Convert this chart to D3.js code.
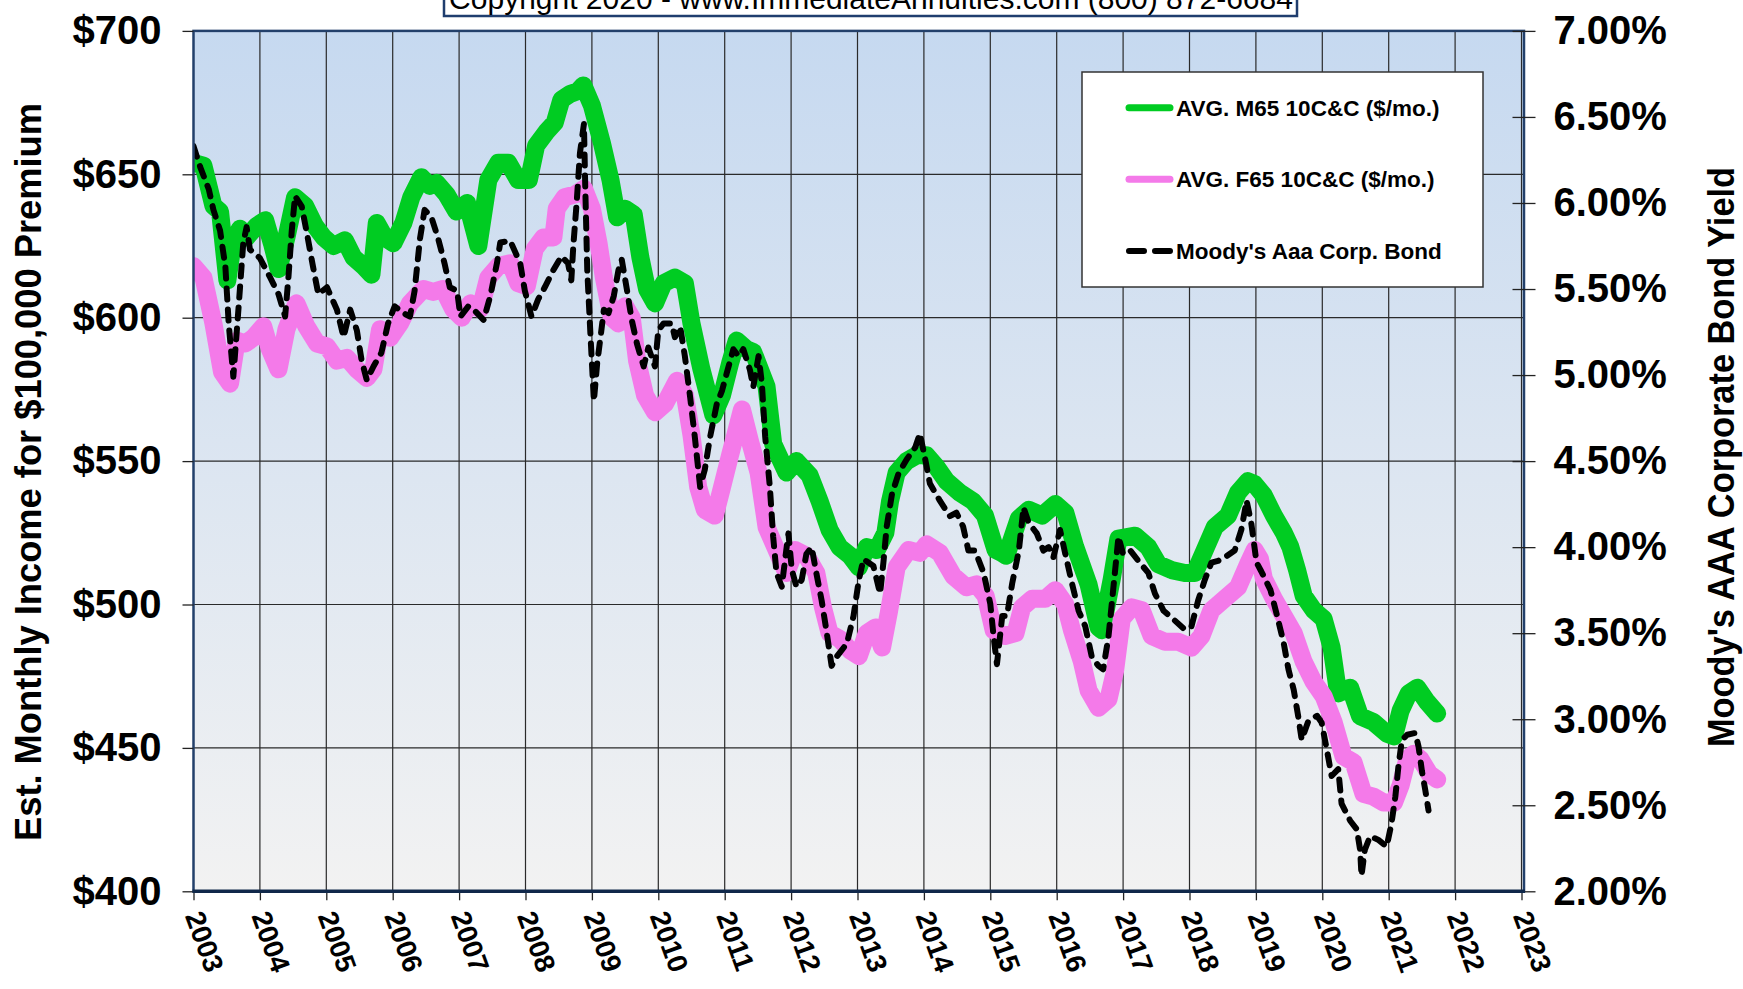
<!DOCTYPE html>
<html>
<head>
<meta charset="utf-8">
<script src="https://cdn.jsdelivr.net/npm/d3@7"></script>
<style>
body { margin: 0; background: #fff; }
text { font-family: Arial, "Liberation Sans", sans-serif; }
</style>
</head>
<body>
<script>
// canvas and plot box
var w = 1743, h = 989;
var plotLeft = 193.5, plotRight = 1521.5, plotEdge = 1524;
var plotTop = 30.9, plotBottom = 891.3;

// axis ticks and labels
var years = d3.range(2003, 2024);
var incomeTicks = [400, 450, 500, 550, 600, 650, 700];
var yieldTicks = [2, 2.5, 3, 3.5, 4, 4.5, 5, 5.5, 6, 6.5, 7];
var seriesNames = ["AVG. M65 10C&C ($/mo.)", "AVG. F65 10C&C ($/mo.)", "Moody's Aaa Corp. Bond"];
var copyright = "Copyright 2020 - www.ImmediateAnnuities.com  (800) 872-6684";

// [year, $ per month]
var m65 = [[2003.00,654],[2003.15,653],[2003.30,639],[2003.40,637],[2003.51,613],[2003.60,627],[2003.70,631],[2003.80,628],[2003.95,632],[2004.08,634],[2004.18,626],[2004.28,617],[2004.40,628],[2004.53,642],[2004.68,639],[2004.83,632],[2004.96,628],[2005.11,625],[2005.28,627],[2005.41,621],[2005.56,618],[2005.68,615],[2005.76,633],[2005.88,628],[2006.01,626],[2006.16,633],[2006.28,642],[2006.43,649],[2006.56,646],[2006.66,647],[2006.81,643],[2006.96,637],[2007.12,640],[2007.29,625],[2007.44,648],[2007.59,654],[2007.74,654],[2007.89,648],[2008.05,648],[2008.16,660],[2008.32,665],[2008.44,668],[2008.54,676],[2008.67,678],[2008.79,679],[2008.87,681],[2009.00,674],[2009.15,661],[2009.28,648],[2009.38,635],[2009.50,638],[2009.63,636],[2009.73,621],[2009.83,610],[2009.95,605],[2010.08,612],[2010.25,614],[2010.40,612],[2010.50,598],[2010.65,582],[2010.83,566],[2010.96,573],[2011.08,584],[2011.18,592],[2011.33,589],[2011.43,588],[2011.63,576],[2011.73,556],[2011.93,546],[2012.08,550],[2012.28,545],[2012.43,536],[2012.58,526],[2012.73,520],[2012.89,517],[2013.02,513],[2013.14,520],[2013.29,519],[2013.42,525],[2013.49,536],[2013.59,546],[2013.74,550],[2013.89,552],[2014.04,552],[2014.19,548],[2014.34,543],[2014.54,539],[2014.74,536],[2014.92,531],[2015.08,519],[2015.17,518],[2015.24,517],[2015.43,530],[2015.58,533],[2015.78,531],[2015.98,535],[2016.13,532],[2016.28,520],[2016.48,507],[2016.63,492],[2016.68,491],[2016.83,509],[2016.93,523],[2017.18,524],[2017.38,520],[2017.53,514],[2017.73,512],[2017.93,511],[2018.08,511],[2018.23,519],[2018.38,527],[2018.58,531],[2018.73,539],[2018.88,543],[2018.98,542],[2019.12,538],[2019.27,531],[2019.42,525],[2019.52,520],[2019.62,512],[2019.72,503],[2019.87,498],[2020.02,495],[2020.14,485],[2020.24,469],[2020.42,471],[2020.57,461],[2020.77,459],[2020.97,455],[2021.08,454],[2021.18,463],[2021.30,469],[2021.43,471],[2021.58,466],[2021.73,462]];

var f65 = [[2003.00,618],[2003.15,614],[2003.30,598],[2003.43,581],[2003.55,577],[2003.65,592],[2003.78,591],[2003.90,593],[2004.05,597],[2004.15,589],[2004.28,582],[2004.40,596],[2004.55,605],[2004.70,597],[2004.86,591],[2005.01,590],[2005.16,585],[2005.31,586],[2005.46,582],[2005.61,579],[2005.71,582],[2005.81,596],[2005.96,593],[2006.11,598],[2006.26,605],[2006.46,610],[2006.61,609],[2006.76,610],[2006.91,603],[2007.04,600],[2007.17,605],[2007.32,603],[2007.44,614],[2007.59,618],[2007.77,619],[2007.89,612],[2008.02,611],[2008.14,624],[2008.27,628],[2008.42,628],[2008.47,638],[2008.59,642],[2008.75,643],[2008.88,645],[2009.00,638],[2009.10,626],[2009.18,614],[2009.30,600],[2009.40,598],[2009.50,604],[2009.60,600],[2009.68,585],[2009.80,573],[2009.95,567],[2010.10,570],[2010.28,578],[2010.40,573],[2010.50,559],[2010.60,541],[2010.70,533],[2010.85,531],[2010.95,540],[2011.08,552],[2011.26,568],[2011.38,557],[2011.51,546],[2011.63,527],[2011.78,519],[2011.93,511],[2012.06,519],[2012.23,517],[2012.38,511],[2012.48,499],[2012.58,490],[2012.73,488],[2012.89,484],[2013.02,482],[2013.14,490],[2013.27,492],[2013.37,485],[2013.47,497],[2013.59,513],[2013.77,519],[2013.94,518],[2014.04,521],[2014.24,518],[2014.44,510],[2014.64,506],[2014.79,507],[2014.93,503],[2015.05,491],[2015.22,489],[2015.38,490],[2015.48,499],[2015.63,502],[2015.83,502],[2015.98,505],[2016.13,500],[2016.23,491],[2016.38,480],[2016.48,470],[2016.63,464],[2016.78,467],[2016.88,477],[2016.98,495],[2017.13,499],[2017.28,498],[2017.43,489],[2017.63,487],[2017.83,487],[2018.03,485],[2018.18,489],[2018.33,498],[2018.53,502],[2018.73,506],[2018.88,514],[2018.98,519],[2019.06,516],[2019.12,509],[2019.27,502],[2019.42,496],[2019.57,490],[2019.72,480],[2019.87,473],[2020.02,468],[2020.17,459],[2020.32,447],[2020.47,445],[2020.62,434],[2020.77,433],[2020.92,431],[2021.08,431],[2021.18,437],[2021.28,446],[2021.38,448],[2021.48,446],[2021.61,441],[2021.73,439]];

// [year, % yield]
var aaa = [[2003.00,6.33],[2003.10,6.21],[2003.23,6.08],[2003.30,5.96],[2003.40,5.84],[2003.48,5.63],[2003.53,5.30],[2003.60,4.99],[2003.68,5.40],[2003.75,5.77],[2003.80,5.86],[2003.85,5.73],[2004.00,5.68],[2004.15,5.57],[2004.28,5.47],[2004.38,5.34],[2004.43,5.57],[2004.48,5.84],[2004.53,6.04],[2004.63,5.98],[2004.70,5.84],[2004.80,5.63],[2004.88,5.47],[2005.01,5.51],[2005.16,5.38],[2005.26,5.22],[2005.36,5.38],[2005.46,5.26],[2005.53,5.09],[2005.61,4.97],[2005.71,5.05],[2005.83,5.13],[2005.93,5.30],[2006.03,5.40],[2006.16,5.36],[2006.26,5.34],[2006.33,5.49],[2006.41,5.79],[2006.48,5.96],[2006.58,5.92],[2006.68,5.80],[2006.78,5.65],[2006.86,5.51],[2006.97,5.49],[2007.02,5.34],[2007.14,5.40],[2007.22,5.38],[2007.37,5.32],[2007.47,5.46],[2007.57,5.65],[2007.62,5.77],[2007.77,5.78],[2007.92,5.65],[2007.99,5.49],[2008.09,5.34],[2008.19,5.44],[2008.29,5.51],[2008.42,5.61],[2008.54,5.69],[2008.64,5.65],[2008.69,5.55],[2008.72,5.75],[2008.77,6.00],[2008.82,6.29],[2008.88,6.46],[2008.90,6.09],[2008.93,5.61],[2008.98,5.22],[2009.03,4.85],[2009.08,5.07],[2009.13,5.22],[2009.18,5.38],[2009.25,5.36],[2009.33,5.46],[2009.40,5.61],[2009.45,5.67],[2009.53,5.49],[2009.60,5.32],[2009.68,5.18],[2009.78,5.05],[2009.85,5.16],[2009.95,5.05],[2010.00,5.26],[2010.08,5.30],[2010.20,5.30],[2010.25,5.22],[2010.33,5.28],[2010.40,5.11],[2010.48,4.87],[2010.55,4.64],[2010.63,4.35],[2010.70,4.45],[2010.78,4.64],[2010.88,4.83],[2010.96,4.91],[2011.03,5.01],[2011.13,5.15],[2011.21,5.11],[2011.28,5.15],[2011.38,5.03],[2011.43,4.93],[2011.51,5.11],[2011.56,4.95],[2011.61,4.64],[2011.68,4.35],[2011.73,4.06],[2011.78,3.85],[2011.86,3.77],[2011.91,3.93],[2011.96,4.08],[2012.01,3.87],[2012.08,3.77],[2012.16,3.81],[2012.23,3.96],[2012.31,4.00],[2012.38,3.85],[2012.46,3.69],[2012.53,3.52],[2012.61,3.31],[2012.68,3.36],[2012.84,3.44],[2012.94,3.60],[2013.02,3.81],[2013.09,3.93],[2013.24,3.89],[2013.34,3.73],[2013.39,3.91],[2013.44,4.12],[2013.52,4.31],[2013.62,4.43],[2013.74,4.51],[2013.87,4.58],[2013.94,4.66],[2014.02,4.51],[2014.09,4.37],[2014.24,4.27],[2014.39,4.18],[2014.49,4.20],[2014.59,4.12],[2014.67,3.98],[2014.77,3.98],[2014.90,3.85],[2015.00,3.67],[2015.05,3.48],[2015.10,3.32],[2015.18,3.60],[2015.25,3.60],[2015.33,3.79],[2015.43,3.98],[2015.50,4.23],[2015.58,4.14],[2015.70,4.08],[2015.80,3.98],[2015.88,4.00],[2015.95,3.94],[2016.05,4.10],[2016.13,3.96],[2016.23,3.79],[2016.33,3.63],[2016.43,3.54],[2016.53,3.36],[2016.63,3.31],[2016.70,3.29],[2016.78,3.48],[2016.85,3.75],[2016.93,4.06],[2017.00,3.96],[2017.11,3.98],[2017.23,3.92],[2017.38,3.85],[2017.48,3.73],[2017.61,3.63],[2017.76,3.58],[2017.93,3.52],[2018.03,3.54],[2018.13,3.69],[2018.23,3.81],[2018.33,3.91],[2018.43,3.92],[2018.53,3.94],[2018.68,3.98],[2018.78,4.10],[2018.86,4.27],[2018.93,4.14],[2019.01,3.91],[2019.08,3.86],[2019.22,3.75],[2019.32,3.60],[2019.42,3.44],[2019.49,3.29],[2019.57,3.17],[2019.64,3.01],[2019.69,2.88],[2019.79,2.99],[2019.92,3.02],[2019.99,2.98],[2020.07,2.82],[2020.14,2.67],[2020.24,2.71],[2020.29,2.51],[2020.42,2.41],[2020.52,2.36],[2020.57,2.24],[2020.59,2.09],[2020.64,2.24],[2020.72,2.32],[2020.84,2.30],[2020.97,2.26],[2021.04,2.39],[2021.10,2.55],[2021.15,2.74],[2021.20,2.88],[2021.28,2.91],[2021.40,2.92],[2021.45,2.84],[2021.50,2.70],[2021.55,2.59],[2021.60,2.47]];

// scales
var x = d3.scaleLinear().domain([2003, 2023]).range([plotLeft, plotRight]);
var yL = d3.scaleLinear().domain([400, 700]).range([plotBottom, plotTop]);
var yR = d3.scaleLinear().domain([2, 7]).range([plotBottom, plotTop]);

var svg = d3.select("body").append("svg")
    .attr("width", w)
    .attr("height", h);

var defs = svg.append("defs");

// plot background gradient
var grad = defs.append("linearGradient")
    .attr("id", "bg").attr("x1", 0).attr("y1", 0).attr("x2", 0).attr("y2", 1);
grad.append("stop").attr("offset", "0%").attr("stop-color", "#c6d9f0");
grad.append("stop").attr("offset", "100%").attr("stop-color", "#f2f2f2");

defs.append("clipPath").attr("id", "plotClip")
   .append("rect")
   .attr("x", plotLeft).attr("y", plotTop)
   .attr("width", plotEdge - plotLeft).attr("height", plotBottom - plotTop);

svg.append("rect")
   .attr("x", plotLeft).attr("y", plotTop)
   .attr("width", plotEdge - plotLeft).attr("height", plotBottom - plotTop)
   .attr("fill", "url(#bg)");

// gridlines
svg.append("g").selectAll("line")
   .data(years.slice(1))
   .enter().append("line")
   .attr("x1", function(d) { return x(d); })
   .attr("x2", function(d) { return x(d); })
   .attr("y1", plotTop).attr("y2", plotBottom)
   .attr("stroke", "#2a2a2a").attr("stroke-width", 1.2);

svg.append("g").selectAll("line")
   .data(incomeTicks.slice(1, -1))
   .enter().append("line")
   .attr("x1", plotLeft).attr("x2", plotEdge)
   .attr("y1", function(d) { return yL(d); })
   .attr("y2", function(d) { return yL(d); })
   .attr("stroke", "#2a2a2a").attr("stroke-width", 1.2);

// series
var lineL = d3.line()
    .x(function(d) { return x(d[0]); })
    .y(function(d) { return yL(d[1]); });
var lineR = d3.line()
    .x(function(d) { return x(d[0]); })
    .y(function(d) { return yR(d[1]); });

var series = svg.append("g").attr("clip-path", "url(#plotClip)");

series.append("path").datum(m65)
   .attr("d", lineL)
   .attr("fill", "none").attr("stroke", "#00cc22").attr("stroke-width", 18)
   .attr("stroke-linejoin", "round").attr("stroke-linecap", "round");

series.append("path").datum(f65)
   .attr("d", lineL)
   .attr("fill", "none").attr("stroke", "#f47ae9").attr("stroke-width", 18)
   .attr("stroke-linejoin", "round").attr("stroke-linecap", "round");

series.append("path").datum(aaa)
   .attr("d", lineR)
   .attr("fill", "none").attr("stroke", "#000").attr("stroke-width", 6)
   .attr("stroke-dasharray", "11 10")
   .attr("stroke-linejoin", "round").attr("stroke-linecap", "round");

// plot border
svg.append("rect")
   .attr("x", plotLeft).attr("y", plotTop)
   .attr("width", plotEdge - plotLeft).attr("height", plotBottom - plotTop)
   .attr("fill", "none").attr("stroke", "#23406b").attr("stroke-width", 2.5);

// left axis
var leftAxis = svg.append("g")
   .attr("transform", "translate(" + plotLeft + ",0)")
   .call(d3.axisLeft(yL).tickValues(incomeTicks).tickSize(11).tickPadding(21)
          .tickFormat(function(d) { return "$" + d; }));
leftAxis.select(".domain").remove();
leftAxis.selectAll("line").attr("stroke", "#222").attr("stroke-width", 1.3);
leftAxis.selectAll("text")
   .attr("font-family", "Arial, 'Liberation Sans', sans-serif")
   .attr("font-size", 40).attr("font-weight", "bold").attr("fill", "#000");

// right axis (crossing ticks)
var rightAxis = svg.append("g")
   .attr("transform", "translate(" + plotRight + ",0)")
   .call(d3.axisRight(yR).tickValues(yieldTicks).tickSize(0).tickPadding(32)
          .tickFormat(function(d) { return d.toFixed(2) + "%"; }));
rightAxis.select(".domain").remove();
rightAxis.selectAll(".tick line")
   .attr("x1", -9).attr("x2", 14)
   .attr("stroke", "#222").attr("stroke-width", 1.3);
rightAxis.selectAll("text")
   .attr("font-family", "Arial, 'Liberation Sans', sans-serif")
   .attr("font-size", 40).attr("font-weight", "bold").attr("fill", "#000");

// bottom axis
var bottomAxis = svg.append("g")
   .attr("transform", "translate(0," + plotBottom + ")")
   .call(d3.axisBottom(x).tickValues(years).tickSize(9).tickSizeOuter(0)
          .tickFormat(d3.format("d")));
bottomAxis.select(".domain").remove();
bottomAxis.selectAll("line").attr("stroke", "#222").attr("stroke-width", 1.3);
bottomAxis.selectAll("text")
   .attr("font-family", "Arial, 'Liberation Sans', sans-serif")
   .attr("font-size", 28).attr("font-weight", "bold").attr("fill", "#000")
   .attr("text-anchor", "start")
   .attr("x", 0).attr("y", 0).attr("dy", "0.35em")
   .attr("transform", "translate(0,21) rotate(70)");

svg.append("line")
   .attr("x1", plotLeft - 1).attr("x2", plotEdge + 1)
   .attr("y1", plotBottom).attr("y2", plotBottom)
   .attr("stroke", "#10284a").attr("stroke-width", 3.5);

// axis titles
svg.append("text")
   .attr("transform", "translate(28,472) rotate(-90)")
   .attr("text-anchor", "middle").attr("dy", "0.35em")
   .attr("font-size", 36).attr("font-weight", "bold")
   .attr("textLength", 738).attr("lengthAdjust", "spacingAndGlyphs")
   .text("Est. Monthly Income for $100,000 Premium");

svg.append("text")
   .attr("transform", "translate(1721,457) rotate(-90)")
   .attr("text-anchor", "middle").attr("dy", "0.35em")
   .attr("font-size", 36).attr("font-weight", "bold")
   .attr("textLength", 580).attr("lengthAdjust", "spacingAndGlyphs")
   .text("Moody's AAA Corporate Bond Yield");

// copyright box, cut off at the top as in the original
svg.append("rect")
   .attr("x", 444).attr("y", -30).attr("width", 853).attr("height", 46)
   .attr("fill", "#fff").attr("stroke", "#1f3d6e").attr("stroke-width", 2.5);
svg.append("text")
   .attr("x", 871).attr("y", 9)
   .attr("text-anchor", "middle")
   .attr("font-size", 30)
   .text(copyright);

// legend
var legend = svg.append("g");
legend.append("rect")
   .attr("x", 1082).attr("y", 72).attr("width", 401).attr("height", 215)
   .attr("fill", "#fff").attr("stroke", "#333").attr("stroke-width", 1.5);

var legendRows = [107.7, 179.3, 251];
var legendColors = ["#00cc22", "#f47ae9", "#000"];

legend.selectAll(".key")
   .data(seriesNames)
   .enter().append("line")
   .attr("x1", 1129).attr("x2", 1170)
   .attr("y1", function(d, i) { return legendRows[i]; })
   .attr("y2", function(d, i) { return legendRows[i]; })
   .attr("stroke", function(d, i) { return legendColors[i]; })
   .attr("stroke-width", function(d, i) { return i === 2 ? 6 : 7; })
   .attr("stroke-dasharray", function(d, i) { return i === 2 ? "15 11" : null; })
   .attr("stroke-linecap", "round");

legend.selectAll(".label")
   .data(seriesNames)
   .enter().append("text")
   .attr("x", 1176)
   .attr("y", function(d, i) { return legendRows[i]; })
   .attr("dy", "0.35em")
   .attr("font-size", 22.5).attr("font-weight", "bold")
   .text(function(d) { return d; });
</script>
</body>
</html>
